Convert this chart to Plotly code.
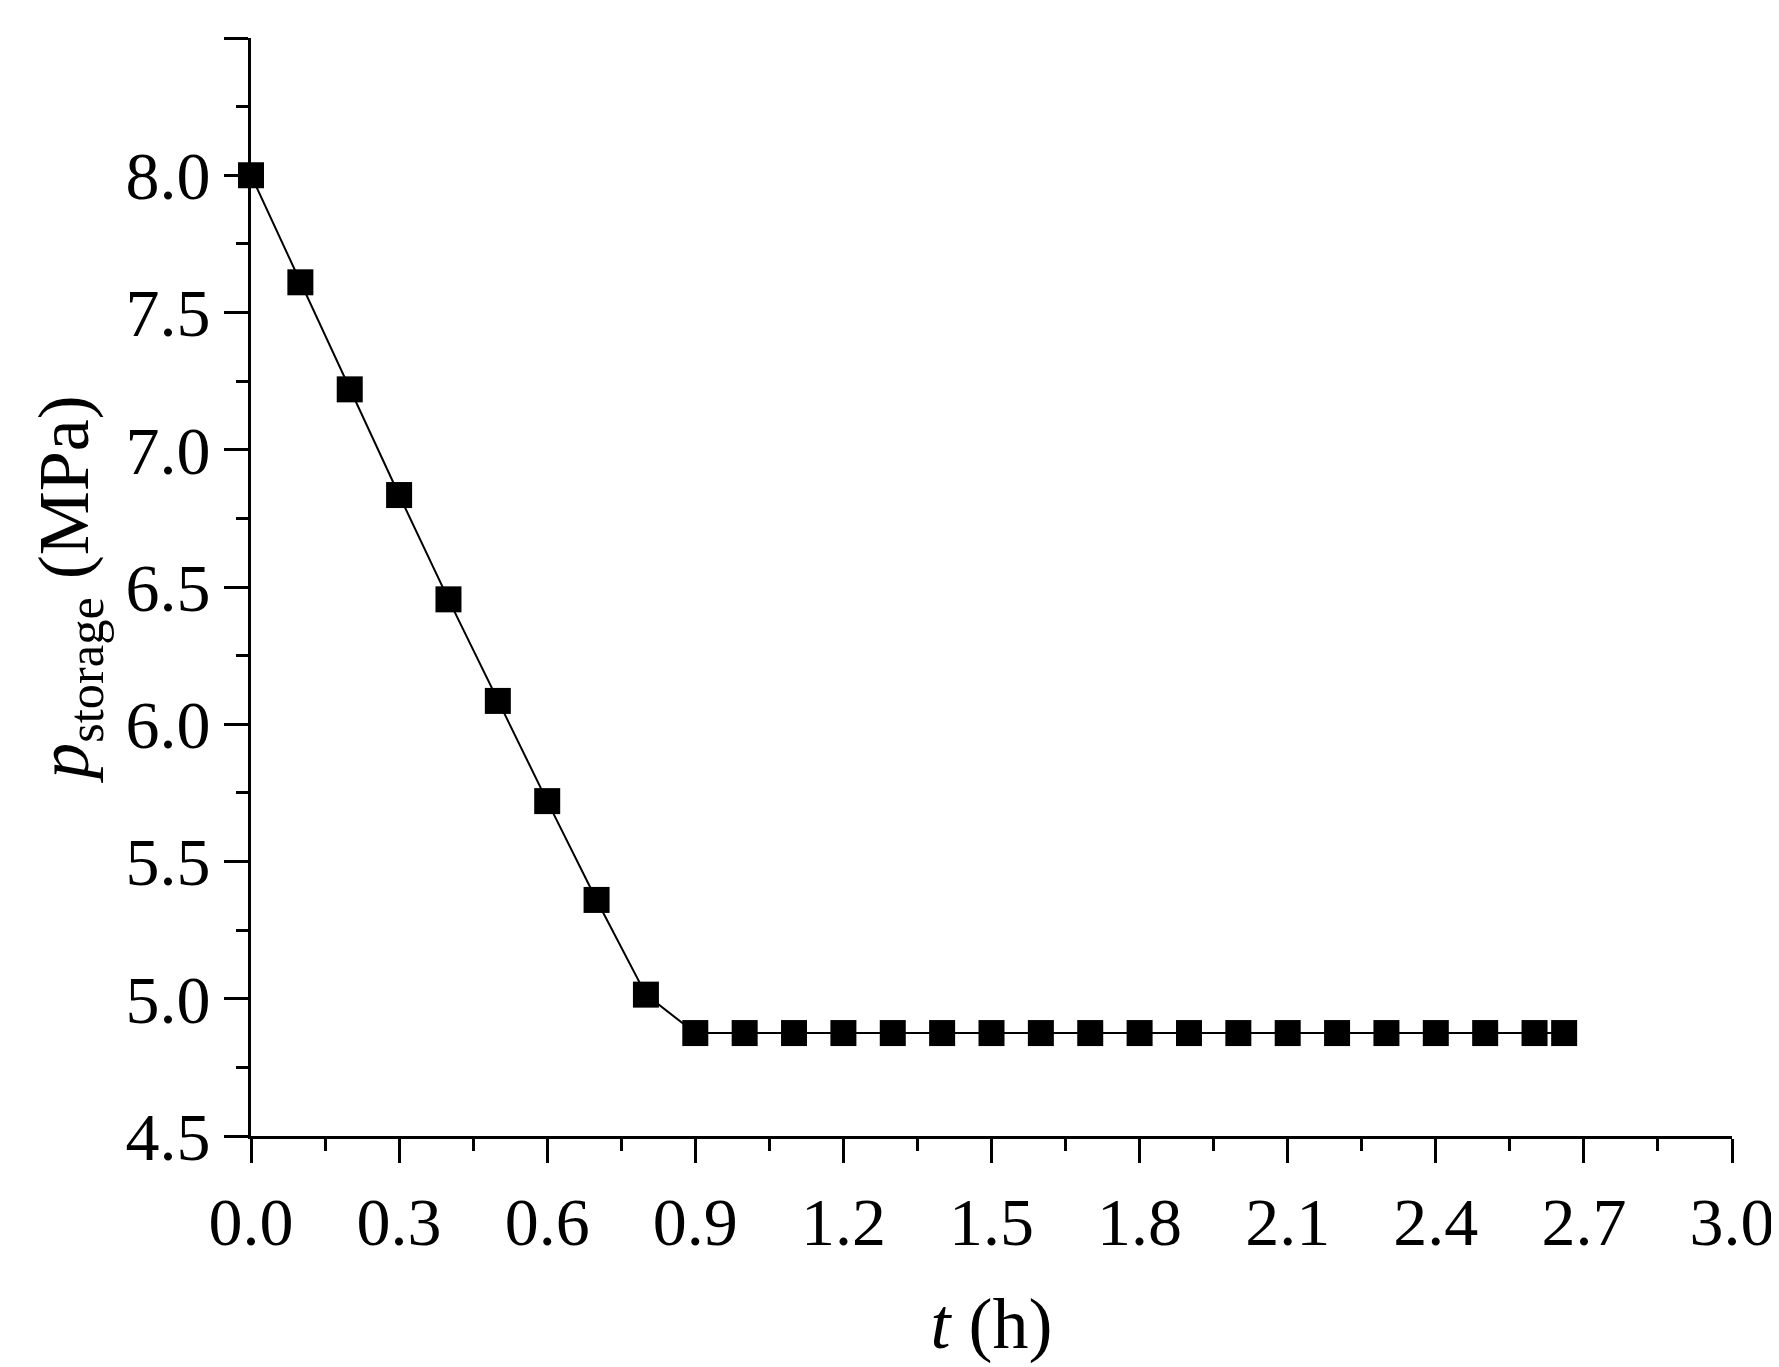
import plotly.graph_objects as go

# time (h) and storage pressure (MPa)
t_h = [0.0, 0.1, 0.2, 0.3, 0.4, 0.5, 0.6, 0.7, 0.8, 0.9, 1.0, 1.1, 1.2, 1.3, 1.4,
       1.5, 1.6, 1.7, 1.8, 1.9, 2.0, 2.1, 2.2, 2.3, 2.4, 2.5, 2.6, 2.66]
p_storage = [8.0, 7.61, 7.22, 6.835, 6.455, 6.085, 5.72, 5.36, 5.015, 4.875, 4.875, 4.875,
             4.875, 4.875, 4.875, 4.875, 4.875, 4.875, 4.875, 4.875, 4.875, 4.875,
             4.875, 4.875, 4.875, 4.875, 4.875, 4.875]

fnt = "Liberation Serif"

fig = go.Figure()
fig.add_trace(go.Scatter(
    x=t_h, y=p_storage, mode="lines+markers",
    line=dict(color="black", width=2),
    marker=dict(symbol="square", size=26, color="black"),
    cliponaxis=False, showlegend=False,
))

axis_common = dict(
    showgrid=False, zeroline=False, showline=True, linecolor="black", linewidth=3,
    ticks="outside", ticklen=24, tickwidth=3, tickcolor="black",
    tickfont=dict(family=fnt, size=68, color="black"),
)
fig.update_xaxes(
    range=[0, 3.0], tickmode="array", tickvals=[i * 0.3 for i in range(11)],
    ticktext=[f"{i * 0.3:.1f}" for i in range(11)],
    minor=dict(tickmode="linear", tick0=0, dtick=0.15, ticks="outside", ticklen=12,
               tickwidth=3, tickcolor="black"),
    title=dict(text="<i>t</i> (h)", font=dict(family=fnt, size=72, color="black"), standoff=40),
    **axis_common,
)
fig.update_yaxes(
    range=[4.5, 8.5], tickmode="array", tickvals=[4.5 + 0.5 * i for i in range(9)],
    ticktext=[f"{4.5 + 0.5 * i:.1f}" for i in range(9)],
    minor=dict(tickmode="linear", tick0=4.5, dtick=0.25, ticks="outside", ticklen=12,
               tickwidth=3, tickcolor="black"),
    title=dict(text="<i>p</i><sub>storage</sub> (MPa)", font=dict(family=fnt, size=72, color="black"),
               standoff=14),
    **axis_common,
)
fig.update_layout(
    width=1779, height=1367, plot_bgcolor="white", paper_bgcolor="white",
    margin=dict(l=243, r=55, t=30, b=239),
)
fig.write_html("out.html")
